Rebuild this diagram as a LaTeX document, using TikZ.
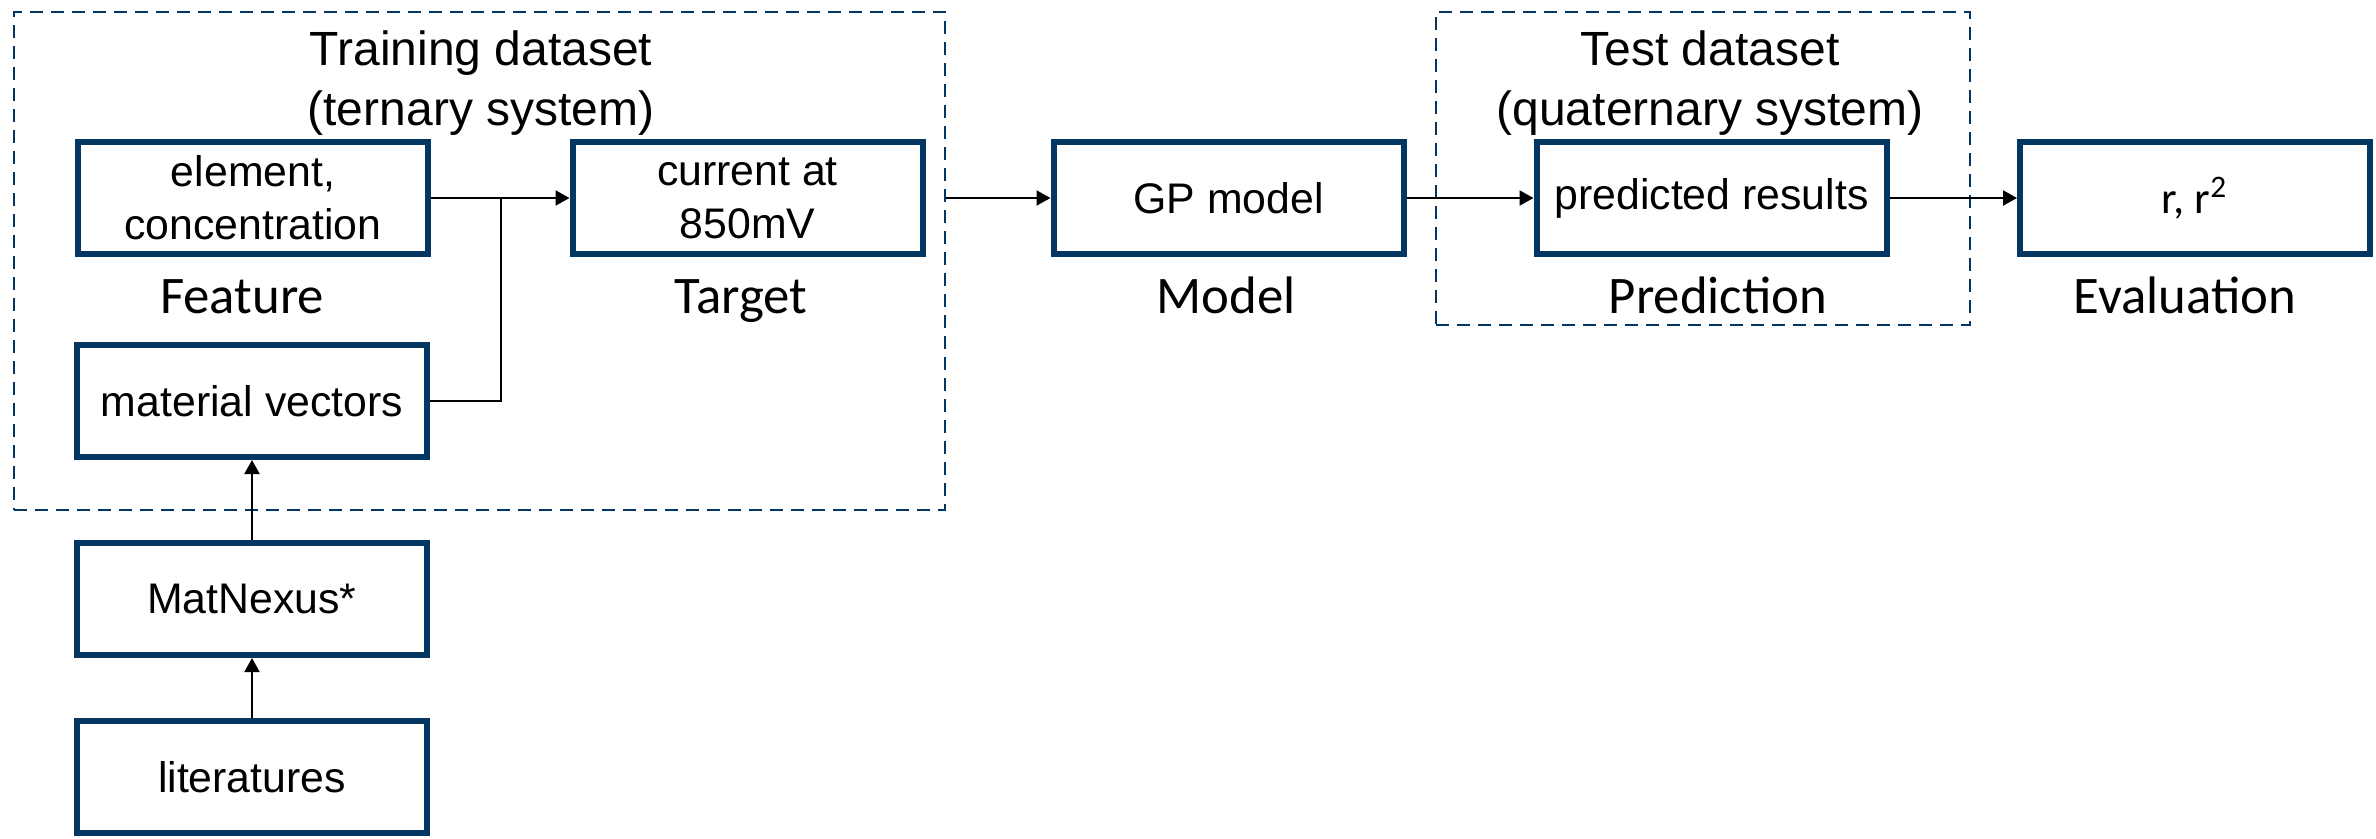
\documentclass[tikz,border=0pt]{standalone}
\usepackage{fontspec}
\setmainfont{Liberation Sans}
\newfontfamily\calfont{Carlito}
\usetikzlibrary{arrows.meta}
\definecolor{boxblue}{RGB}{4,54,98}
\begin{document}
\begin{tikzpicture}[x=0.25pt,y=-0.25pt,
  procbox/.style={draw=boxblue, line width=1.5pt, minimum width=87.5pt, minimum height=28pt, inner sep=0pt, align=center, font=\fontsize{10.7}{13.25}\selectfont},
  group/.style={draw=boxblue, line width=0.5pt, dash pattern=on 3.25pt off 2pt, inner sep=0pt},
  title/.style={font=\fontsize{12}{15}\selectfont, anchor=base, inner sep=0pt},
  stage/.style={font=\calfont\fontsize{13.2}{15}\selectfont, anchor=base, inner sep=0pt},
  conn/.style={line width=0.5pt, -{Triangle[length=3.5pt,width=3.75pt]}},
  plain/.style={line width=0.5pt}]
\useasboundingbox (0,0) rectangle (2376,838);
% dashed groups
\node[group, minimum width=232.75pt, minimum height=124.5pt] (train) at (479.5,261) {};
\node[group, minimum width=133.5pt, minimum height=78.25pt] (test) at (1703,168.5) {};
% titles
\node[title] (t1a) at (481,65) {Training dataset};
\node[title] (t1b) at (481,125) {(ternary system)};
\node[title] (t2a) at (1710,65) {Test dataset};
\node[title] (t2b) at (1710,125) {(quaternary system)};
% boxes
\node[procbox] (elem) at (253,198) {element,\\concentration};
\node[procbox] (curr) at (747.5,198) {current at\\850mV};
\node[procbox] (mat) at (252,401) {material vectors};
\node[procbox] (matnex) at (252,599) {MatNexus*};
\node[procbox] (lit) at (252,777) {literatures};
\node[procbox] (gp) at (1228.5,198) {GP model};
\node[procbox] (pred) at (1711.5,198) {predicted results};
\node[procbox, font=\calfont\fontsize{11.2}{13}\selectfont] (eval) at (2195,198) {r, r\textsuperscript{2}};
% stage labels
\node[stage] (lfeat) at (242,313) {Feature};
\node[stage] (ltarg) at (741,313) {Target};
\node[stage] (lmod) at (1226,313) {Model};
\node[stage] (lpred) at (1718,313) {Prediction};
\node[stage] (leval) at (2185,313) {Evaluation};
% connectors
\coordinate (j) at (501,198);
\draw[conn] (elem.east) -- (curr.west);
\draw[plain] (mat.east) -| (j);
\draw[conn] (train.east |- gp.west) -- (gp.west);
\draw[conn] (gp.east) -- (pred.west);
\draw[conn] (pred.east) -- (eval.west);
\draw[conn] (matnex.north) -- (mat.south);
\draw[conn] (lit.north) -- (matnex.south);
\end{tikzpicture}
\end{document}
